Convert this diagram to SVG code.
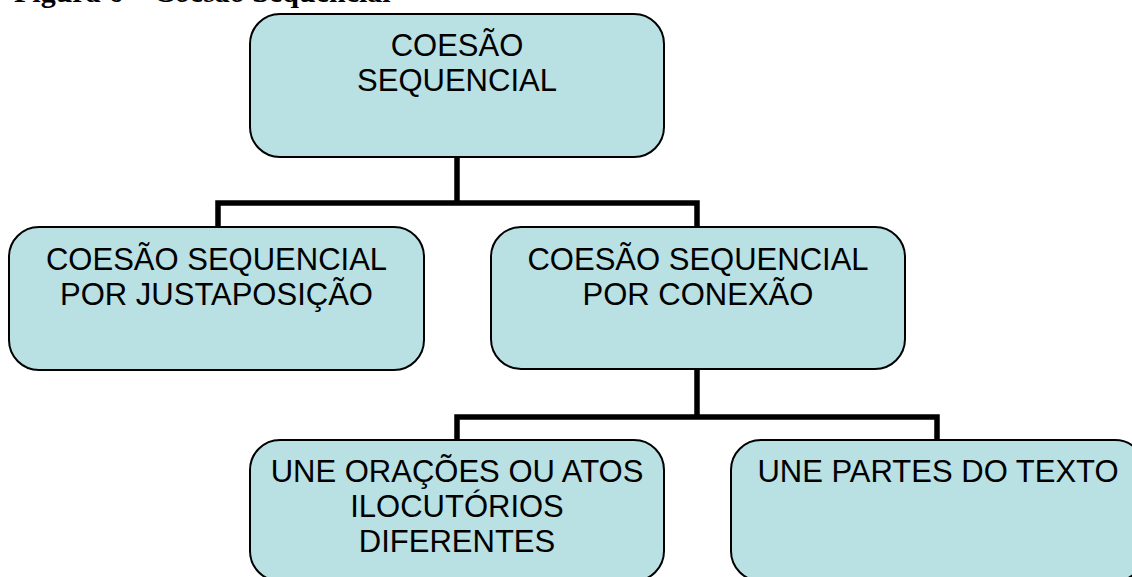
<svg xmlns="http://www.w3.org/2000/svg" width="1132" height="577" viewBox="0 0 1132 577">
<style>
.box{fill:#b9e0e3;stroke:#000;stroke-width:2}
.t{font-family:"Liberation Sans",Arial,sans-serif;font-size:31px;fill:#000;text-anchor:middle}
.cap{font-family:"Liberation Serif","Times New Roman",serif;font-size:30px;font-weight:bold;fill:#000}
.c{fill:none;stroke:#000;stroke-width:5.5;stroke-linejoin:miter}
</style>
<rect width="1132" height="577" fill="#fff"/>
<text class="cap" x="14" y="1.5">Figura 6 – Coesão Sequencial</text>
<g id="connectors">
<path class="c" d="M457,157 V203 M218,227 V203 H697 V227"/>
<path class="c" d="M697,369 V417 M457,440 V417 H937 V440"/>
</g>
<g id="n1">
<rect class="box" x="250" y="14" width="414" height="143" rx="30"/>
<text class="t" x="457" y="56">COESÃO</text>
<text class="t" x="457" y="91">SEQUENCIAL</text>
</g>
<g id="n2">
<rect class="box" x="9" y="227" width="415" height="143" rx="30"/>
<text class="t" x="216.5" y="270">COESÃO SEQUENCIAL</text>
<text class="t" x="216.5" y="305">POR JUSTAPOSIÇÃO</text>
</g>
<g id="n3">
<rect class="box" x="491" y="227" width="414" height="142" rx="30"/>
<text class="t" x="698" y="270">COESÃO SEQUENCIAL</text>
<text class="t" x="698" y="305">POR CONEXÃO</text>
</g>
<g id="n4">
<rect class="box" x="250" y="440" width="414" height="141" rx="30"/>
<text class="t" x="457" y="482">UNE ORAÇÕES OU ATOS</text>
<text class="t" x="457" y="517">ILOCUTÓRIOS</text>
<text class="t" x="457" y="552">DIFERENTES</text>
</g>
<g id="n5">
<rect class="box" x="731" y="440" width="414" height="141" rx="30"/>
<text class="t" x="938" y="482">UNE PARTES DO TEXTO</text>
</g>
</svg>
